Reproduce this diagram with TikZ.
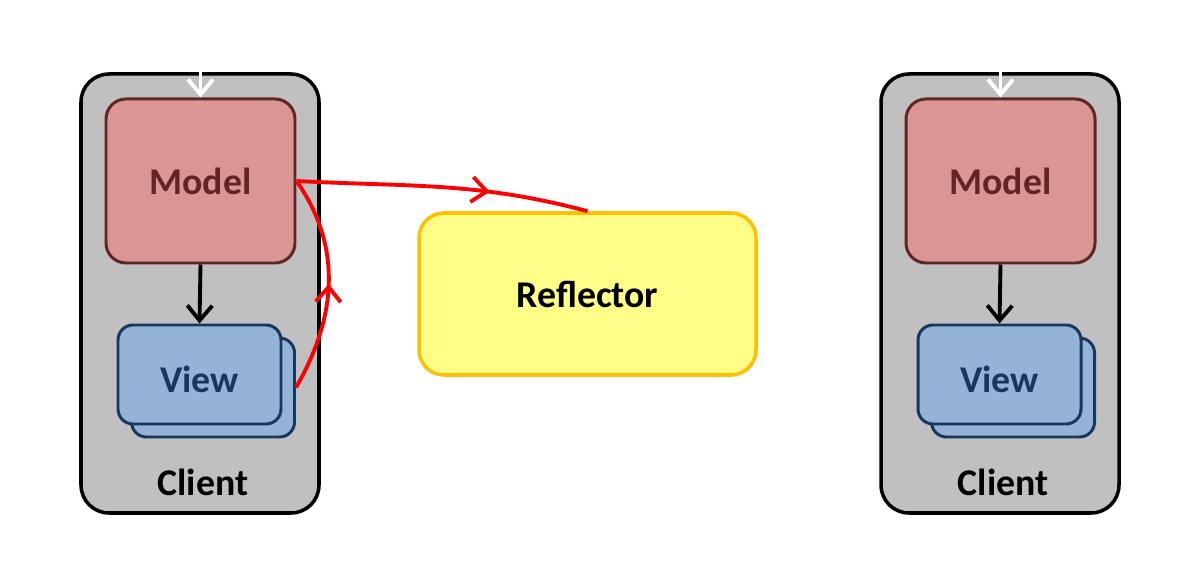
\documentclass[tikz,border=0pt]{standalone}
\usepackage{fontspec}
\setmainfont{Carlito}
\usepackage{xcolor}
\usetikzlibrary{arrows.meta, decorations.markings}

\definecolor{clientgray}{HTML}{C0C0C0}
\definecolor{modelfill}{HTML}{D99694}
\definecolor{modeldraw}{HTML}{632523}
\definecolor{viewfill}{HTML}{95B3D7}
\definecolor{viewdraw}{HTML}{17375E}
\definecolor{reflfill}{HTML}{FFFF88}
\definecolor{refldraw}{HTML}{FFC000}

\begin{document}
\begin{tikzpicture}[
    font=\fontsize{21.5}{25}\selectfont\bfseries,
    clientbox/.style={draw=black, fill=clientgray, line width=2pt, rounded corners=0.56cm,
                      minimum width=4.76cm, minimum height=8.78cm},
    modelbox/.style={draw=modeldraw, fill=modelfill, text=modeldraw, line width=1.7pt,
                     rounded corners=0.4cm, minimum width=3.78cm, minimum height=3.28cm},
    viewbox/.style={draw=viewdraw, fill=viewfill, text=viewdraw, line width=1.7pt,
                    rounded corners=0.3cm, minimum width=3.26cm, minimum height=1.98cm,
                    text height=0.73cm},
    reflbox/.style={draw=refldraw, fill=reflfill, line width=2pt, rounded corners=0.5cm,
                    minimum width=6.74cm, minimum height=3.24cm},
    flow/.style={line width=2.2pt, -{Straight Barb[length=3mm, width=5mm]}},
    midarrow/.style={red, line width=2.2pt, decoration={markings,
                     mark=at position #1 with {\arrow{Straight Barb[length=3mm, width=5mm]}}},
                     postaction={decorate}},
]
\useasboundingbox (0,0) rectangle (24,11.52);

% left client
\node[clientbox] (clientL) at (4.0,5.65) {};
\node[modelbox] (modelL) at (4.01,7.9) {Model};
\node[viewbox] (viewbackL) at (4.26,3.77) {};
\node[viewbox] (viewL) at (3.99,4.03) {View};
\node (labelL) at (4.06,1.88) {Client};
\coordinate (inL) at (4.01,10.2);
\draw[flow, white] (inL) -- (modelL.north);
\draw[flow, black] (modelL.south) -- (viewL.north);

% right client
\node[clientbox] (clientR) at (20.0,5.65) {};
\node[modelbox] (modelR) at (20.01,7.9) {Model};
\node[viewbox] (viewbackR) at (20.26,3.77) {};
\node[viewbox] (viewR) at (19.99,4.03) {View};
\node (labelR) at (20.06,1.88) {Client};
\coordinate (inR) at (20.01,10.2);
\draw[flow, white] (inR) -- (modelR.north);
\draw[flow, black] (modelR.south) -- (viewR.north);

% reflector
\node[reflbox] (refl) at (11.75,5.64) {Reflector};

% red paths
\draw[midarrow=0.5] (viewbackL.east) to[out=60, in=-55] (modelL.east);
\draw[midarrow=0.66] (modelL.east) to[out=-3, in=165] (refl.north);

\end{tikzpicture}
\end{document}
